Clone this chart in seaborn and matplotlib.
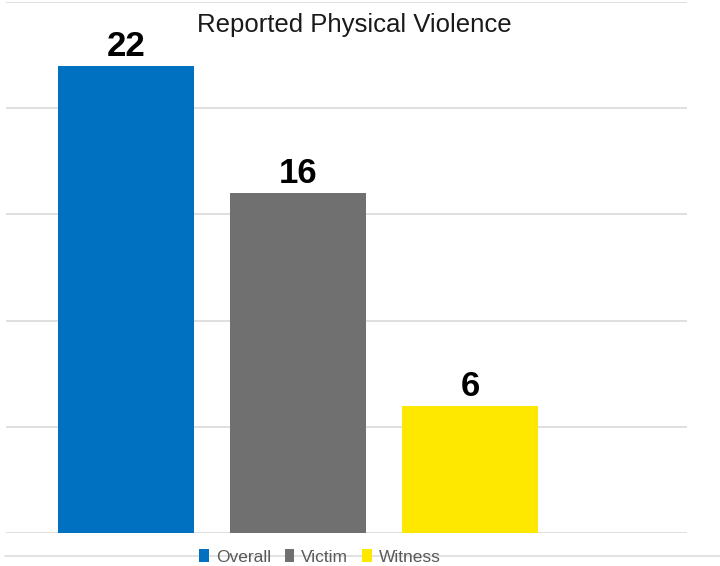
import matplotlib
matplotlib.use("Agg")
import matplotlib.pyplot as plt
import seaborn as sns
import pandas as pd
from matplotlib.patches import Patch
from matplotlib.lines import Line2D

categories = ["Overall", "Victim", "Witness"]
values = [22, 16, 6]
colors = ["#0070C0", "#707070", "#FFE800"]
title = "Reported Physical Violence"

sns.set_theme(style="white")
plt.rcParams["font.family"] = ["Liberation Sans", "DejaVu Sans"]

df = pd.DataFrame({"cat": categories, "val": values})

fig = plt.figure(figsize=(7.2, 5.66), dpi=100)
ax = fig.add_axes([5.5 / 720, 33 / 566, (687 - 5.5) / 720, 531 / 566])

sns.barplot(data=df, x="cat", y="val", hue="cat", palette=dict(zip(categories, colors)),
            width=0.79, legend=False, ax=ax, saturation=1, edgecolor="none", zorder=2)

ax.set_ylim(0, 25)
ax.set_xlim(-0.70, 3.26)
ax.set_yticks([0, 5, 10, 15, 20, 25])
ax.yaxis.grid(True, color="#D9D9D9", linewidth=1.2, zorder=0)
ax.set_axisbelow(True)
ax.tick_params(left=False, bottom=False, labelleft=False, labelbottom=False)
for s in ax.spines.values():
    s.set_visible(False)
ax.set_xlabel("")
ax.set_ylabel("")

for cont in ax.containers:
    ax.bar_label(cont, fmt="%d", padding=2, fontsize=25, fontweight="bold", color="black")

fig.text(354 / 720, (566 - 32) / 566, title, ha="center", va="baseline",
         fontsize=18.5, color="#1a1a1a")

# light line behind legend
fig.add_artist(Line2D([5 / 720, 1.0], [10 / 566, 10 / 566], transform=fig.transFigure,
                      color="#DDDDDD", linewidth=1.2, zorder=0))

handles = [Patch(facecolor=c, edgecolor="none") for c in colors]
leg = fig.legend(handles, categories, loc="center", bbox_to_anchor=(320 / 720, 9 / 566),
                 ncol=3, frameon=False, fontsize=12.5, handlelength=0.55, handleheight=0.7,
                 handletextpad=0.4, columnspacing=0.8, borderpad=0.1)
for t in leg.get_texts():
    t.set_color("#595959")

fig.savefig("out.png", dpi=100, facecolor="white")
